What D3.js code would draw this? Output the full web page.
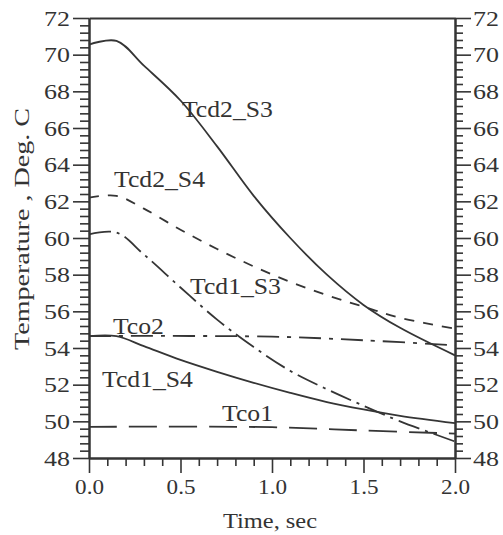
<!DOCTYPE html>
<html>
<head>
<meta charset="utf-8">
<script src="https://cdn.jsdelivr.net/npm/d3@7/dist/d3.min.js"></script>
<style>
  html, body { margin: 0; padding: 0; background: #fff; }
  svg { display: block; }
</style>
</head>
<body>
<svg id="chart" width="503" height="535"></svg>
<script>
// time points (sec)
const timeCd = [0, 0.15, 0.3, 0.5, 0.7, 0.9, 1.1, 1.3, 1.5, 1.7, 2.0];
const tcd2S3 = [70.55, 70.75, 69.4, 67.5, 65.0, 62.3, 60.0, 58.0, 56.35, 55.1, 53.6];
const tcd2S4 = [62.2, 62.3, 61.6, 60.45, 59.4, 58.45, 57.6, 56.88, 56.25, 55.65, 55.05];
const tcd1S3 = [60.2, 60.3, 59.1, 57.3, 55.55, 54.05, 52.75, 51.75, 50.85, 50.0, 48.9];
const tcd1S4 = [54.65, 54.65, 54.1, 53.35, 52.7, 52.1, 51.55, 51.05, 50.65, 50.3, 49.9];
const timeCo = [0, 1.0, 1.5, 2.0];
const tco2 = [54.65, 54.62, 54.42, 54.15];
const tco1 = [49.7, 49.68, 49.5, 49.33];

const yMajor = d3.range(48, 73, 2);
const xMajor = [0, 0.5, 1.0, 1.5, 2.0];

// curve labels, anchored in data units (time, temperature at baseline)
const labelText = ["Tcd2_S3", "Tcd2_S4", "Tcd1_S3", "Tco2", "Tcd1_S4", "Tco1"];
const labelT = [0.508, 0.137, 0.552, 0.131, 0.071, 0.727];
const labelV = [66.6, 62.78, 56.94, 54.76, 51.9, 50.0];

const series = [
  { t: timeCd, v: tcd2S3, dash: null },
  { t: timeCd, v: tcd2S4, dash: "10,9" },
  { t: timeCd, v: tcd1S3, dash: "22,6,3,6" },
  { t: timeCd, v: tcd1S4, dash: null },
  { t: timeCo, v: tco2, dash: "22,8,4,8" },
  { t: timeCo, v: tco1, dash: "28,12" },
];

const svg = d3.select("#chart");
const ink = "#353535";
const serif = "'Liberation Serif', 'Times New Roman', Times, serif";
const x = d3.scaleLinear().domain([0, 2]).range([89, 455]);
const y = d3.scaleLinear().domain([48, 72]).range([458, 18]);

// widen text a bit, the scanned type is broader than Times
function stretch(sel, k) {
  sel.each(function () {
    const w = this.getComputedTextLength();
    d3.select(this).attr("textLength", w * k).attr("lengthAdjust", "spacingAndGlyphs");
  });
}
function font(sel, size) {
  sel.style("font-family", serif).style("font-size", size + "px").style("fill", "#333");
}

const notMajor = (step) => (v) => Math.abs(v / step - Math.round(v / step)) > 0.01;
const yMinor = d3.range(48, 72.001, 0.4).filter(notMajor(2));
const xMinor = d3.range(0, 2.001, 0.1).filter(notMajor(0.5));

function styleAxis(g) {
  g.select(".domain").attr("stroke", ink).attr("stroke-width", 2);
  g.selectAll(".tick line").attr("stroke", ink).attr("stroke-width", 1.6);
}

// minor ticks
svg.append("g").attr("transform", "translate(89,0)")
  .call(d3.axisLeft(y).tickValues(yMinor).tickSize(9).tickSizeOuter(0).tickFormat(""))
  .call(styleAxis);
svg.append("g").attr("transform", "translate(455,0)")
  .call(d3.axisRight(y).tickValues(yMinor).tickSize(8).tickSizeOuter(0).tickFormat(""))
  .call(styleAxis);
svg.append("g").attr("transform", "translate(0,458)")
  .call(d3.axisBottom(x).tickValues(xMinor).tickSize(8).tickSizeOuter(0).tickFormat(""))
  .call(styleAxis);

// major ticks + labels
const left = svg.append("g").attr("transform", "translate(89,0)")
  .call(d3.axisLeft(y).tickValues(yMajor).tickSize(16).tickPadding(3).tickSizeOuter(0))
  .call(styleAxis);
const right = svg.append("g").attr("transform", "translate(455,0)")
  .call(d3.axisRight(y).tickValues(yMajor).tickSize(16).tickPadding(2).tickSizeOuter(0))
  .call(styleAxis);
const bottom = svg.append("g").attr("transform", "translate(0,458)")
  .call(d3.axisBottom(x).tickValues(xMajor).tickSize(15).tickPadding(5).tickSizeOuter(0)
    .tickFormat(d3.format(".1f")))
  .call(styleAxis);
svg.append("g").attr("transform", "translate(0,18)")
  .call(d3.axisTop(x).tickValues([]).tickSizeOuter(0))
  .call(styleAxis);

[left, right, bottom].forEach((g) => font(g.selectAll("text"), 22));
stretch(left.selectAll("text"), 1.18);
stretch(right.selectAll("text"), 1.18);
stretch(bottom.selectAll("text"), 1.05);

// curves
const line = d3.line().curve(d3.curveCatmullRom.alpha(0.5));
svg.append("g").selectAll("path")
  .data(series)
  .join("path")
  .attr("d", (s) => line(s.t.map((t, i) => [x(t), y(s.v[i])])))
  .attr("fill", "none")
  .attr("stroke", ink)
  .attr("stroke-width", 1.8)
  .attr("stroke-dasharray", (s) => s.dash);

// curve labels
const lbl = svg.append("g").selectAll("text")
  .data(labelText)
  .join("text")
  .attr("x", (d, i) => x(labelT[i]))
  .attr("y", (d, i) => y(labelV[i]))
  .text((d) => d)
  .call(font, 24);
stretch(lbl, 1.07);

// axis titles
const xt = svg.append("text")
  .attr("x", (x(0) + x(2)) / 2 - 2)
  .attr("y", 528)
  .attr("text-anchor", "middle")
  .text("Time, sec")
  .call(font, 22);
stretch(xt, 1.11);

svg.append("text")
  .attr("transform", "translate(29,229) rotate(-90)")
  .attr("text-anchor", "middle")
  .attr("textLength", 242)
  .attr("lengthAdjust", "spacingAndGlyphs")
  .text("Temperature , Deg. C")
  .call(font, 22);
</script>
</body>
</html>
